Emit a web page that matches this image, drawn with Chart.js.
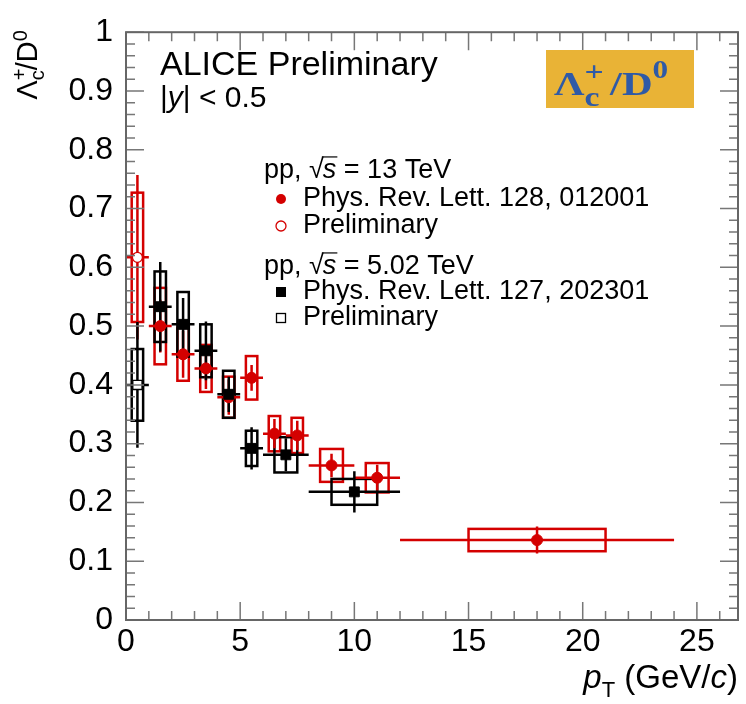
<!DOCTYPE html>
<html>
<head>
<meta charset="utf-8">
<script src="https://cdn.jsdelivr.net/npm/chart.js@4/dist/chart.umd.min.js"></script>
<style>
  html, body { margin: 0; padding: 0; background: #fff; }
  canvas { display: block; }
</style>
</head>
<body>
<canvas id="ratioChart" width="746" height="704"></canvas>
<script>
// pp, sqrt(s) = 13 TeV -- Phys. Rev. Lett. 128, 012001
const ptRed = [1.5, 2.5, 3.5, 4.5, 5.5, 6.5, 7.5, 9, 11, 18];
const ptRedLo = [1, 2, 3, 4, 5, 6, 7, 8, 10, 12];
const ptRedHi = [2, 3, 4, 5, 6, 7, 8, 10, 12, 24];
const ratioRed = [0.500, 0.452, 0.428, 0.379, 0.412, 0.317, 0.314, 0.263, 0.242, 0.136];
const statRed = [0.045, 0.040, 0.035, 0.030, 0.022, 0.025, 0.025, 0.020, 0.022, 0.023];
const systRed = [0.065, 0.045, 0.040, 0.035, 0.037, 0.030, 0.030, 0.028, 0.025, 0.019];

// pp, sqrt(s) = 13 TeV -- Preliminary
const ptRedPrel = [0.5];
const ptRedPrelLo = [0];
const ptRedPrelHi = [1];
const ratioRedPrel = [0.617];
const statRedPrel = [0.140];
const systRedPrel = [0.110];

// pp, sqrt(s) = 5.02 TeV -- Phys. Rev. Lett. 127, 202301
const ptBlack = [1.5, 2.5, 3.5, 4.5, 5.5, 7, 10];
const ptBlackLo = [1, 2, 3, 4, 5, 6, 8];
const ptBlackHi = [2, 3, 4, 5, 6, 8, 12];
const ratioBlack = [0.533, 0.503, 0.458, 0.384, 0.292, 0.281, 0.218];
const statBlack = [0.076, 0.045, 0.050, 0.030, 0.036, 0.028, 0.035];
const systBlack = [0.060, 0.055, 0.045, 0.040, 0.030, 0.030, 0.022];

// pp, sqrt(s) = 5.02 TeV -- Preliminary
const ptBlackPrel = [0.5];
const ptBlackPrelLo = [0];
const ptBlackPrelHi = [1];
const ratioBlackPrel = [0.400];
const statBlackPrel = [0.107];
const systBlackPrel = [0.061];

const FONT = "'Liberation Sans', Arial, sans-serif";
const RED = '#d40000';
const BLACK = '#000000';

const ratioCanvas = document.getElementById('ratioChart');

function toPoints(xs, ys) {
  return xs.map(function(x, i) { return { x: x, y: ys[i] }; });
}

// syst boxes: half of the bin width, centred on the point
function drawBoxes(chart, xs, lo, hi, ys, syst, color) {
  const ctx = chart.ctx;
  const sx = chart.scales.x, sy = chart.scales.y;
  ctx.strokeStyle = color;
  ctx.lineWidth = 2.5;
  xs.forEach(function(x, i) {
    const w = (hi[i] - lo[i]) / 4;
    const x0 = sx.getPixelForValue(x - w), x1 = sx.getPixelForValue(x + w);
    const y0 = sy.getPixelForValue(ys[i] + syst[i]), y1 = sy.getPixelForValue(ys[i] - syst[i]);
    ctx.strokeRect(x0, y0, x1 - x0, y1 - y0);
  });
}

function drawBars(chart, xs, lo, hi, ys, stat, color) {
  const ctx = chart.ctx;
  const sx = chart.scales.x, sy = chart.scales.y;
  ctx.strokeStyle = color;
  ctx.lineWidth = 2.5;
  ctx.beginPath();
  xs.forEach(function(x, i) {
    const py = sy.getPixelForValue(ys[i]);
    const px = sx.getPixelForValue(x);
    ctx.moveTo(sx.getPixelForValue(lo[i]), py);
    ctx.lineTo(sx.getPixelForValue(hi[i]), py);
    ctx.moveTo(px, sy.getPixelForValue(ys[i] - stat[i]));
    ctx.lineTo(px, sy.getPixelForValue(ys[i] + stat[i]));
  });
  ctx.stroke();
}

// draw a run of text pieces: [text, font, dy, noAdvance]
function drawRun(ctx, pieces, x, y) {
  let cx = x;
  pieces.forEach(function(p) {
    ctx.font = p[1];
    ctx.fillText(p[0], cx, y + (p[2] || 0));
    if (!p[3]) cx += ctx.measureText(p[0]).width;
  });
  return cx;
}

function runWidth(ctx, pieces) {
  let w = 0;
  pieces.forEach(function(p) {
    ctx.font = p[1];
    if (!p[3]) w += ctx.measureText(p[0]).width;
  });
  return w;
}

function sqrtS(ctx, x, y, size, rest) {
  ctx.font = size + 'px ' + FONT;
  ctx.fillText('pp, ', x, y);
  let cx = x + ctx.measureText('pp, ').width;
  ctx.fillText('\u221A', cx, y);
  const rw = ctx.measureText('\u221A').width;
  const top = y - size * 0.78;
  cx += rw - 1;
  ctx.font = 'italic ' + size + 'px ' + FONT;
  ctx.fillText('s', cx, y);
  const sw = ctx.measureText('s').width;
  ctx.lineWidth = 1.2;
  ctx.beginPath();
  ctx.moveTo(cx - 1, top);
  ctx.lineTo(cx + sw + 1, top);
  ctx.stroke();
  ctx.font = size + 'px ' + FONT;
  ctx.fillText(rest, cx + sw, y);
}

const rootStyle = {
  id: 'rootStyle',
  beforeDatasetsDraw(chart) {
    const ctx = chart.ctx;
    ctx.save();
    drawBoxes(chart, ptRed, ptRedLo, ptRedHi, ratioRed, systRed, RED);
    drawBoxes(chart, ptRedPrel, ptRedPrelLo, ptRedPrelHi, ratioRedPrel, systRedPrel, RED);
    drawBoxes(chart, ptBlack, ptBlackLo, ptBlackHi, ratioBlack, systBlack, BLACK);
    drawBoxes(chart, ptBlackPrel, ptBlackPrelLo, ptBlackPrelHi, ratioBlackPrel, systBlackPrel, BLACK);
    drawBars(chart, ptRed, ptRedLo, ptRedHi, ratioRed, statRed, RED);
    drawBars(chart, ptRedPrel, ptRedPrelLo, ptRedPrelHi, ratioRedPrel, statRedPrel, RED);
    drawBars(chart, ptBlack, ptBlackLo, ptBlackHi, ratioBlack, statBlack, BLACK);
    drawBars(chart, ptBlackPrel, ptBlackPrelLo, ptBlackPrelHi, ratioBlackPrel, statBlackPrel, BLACK);
    ctx.restore();
  },
  afterDraw(chart) {
    const ctx = chart.ctx;
    const a = chart.chartArea;
    const sx = chart.scales.x, sy = chart.scales.y;
    ctx.save();

    // inward ticks, ROOT style
    ctx.strokeStyle = '#777';
    ctx.lineWidth = 1.5;
    ctx.beginPath();
    for (let i = 0; i <= 26; i++) {
      const px = sx.getPixelForValue(i);
      const len = i % 5 === 0 ? 18 : 9;
      ctx.moveTo(px, a.bottom); ctx.lineTo(px, a.bottom - len);
      ctx.moveTo(px, a.top); ctx.lineTo(px, a.top + len);
    }
    for (let j = 0; j <= 50; j++) {
      const py = sy.getPixelForValue(j / 50);
      const len = j % 5 === 0 ? 18 : 9;
      ctx.moveTo(a.left, py); ctx.lineTo(a.left + len, py);
      ctx.moveTo(a.right, py); ctx.lineTo(a.right - len, py);
    }
    ctx.stroke();
    ctx.strokeStyle = '#666';
    ctx.lineWidth = 2;
    ctx.strokeRect(a.left, a.top, a.right - a.left, a.bottom - a.top);

    ctx.fillStyle = '#000';
    ctx.strokeStyle = '#000';
    ctx.textBaseline = 'alphabetic';
    ctx.textAlign = 'left';

    // x title: pT (GeV/c)
    const xt = [
      ['p', 'italic 33px ' + FONT, 0],
      ['T', '22px ' + FONT, 9],
      [' (GeV/', '33px ' + FONT, 0],
      ['c', 'italic 33px ' + FONT, 0],
      [')', '33px ' + FONT, 0]
    ];
    drawRun(ctx, xt, a.right - runWidth(ctx, xt), 688);

    // y title: Lambda_c^+ / D^0, rotated
    const yt = [
      ['\u039B', '29px ' + FONT, 0],
      ['+', '20px ' + FONT, -11, true],
      ['c', '20px ' + FONT, 7],
      ['/D', '29px ' + FONT, 0],
      ['0', '20px ' + FONT, -10]
    ];
    const ytw = runWidth(ctx, yt);
    ctx.save();
    ctx.translate(37, a.top - 2 + ytw);
    ctx.rotate(-Math.PI / 2);
    drawRun(ctx, yt, 0, 0);
    ctx.restore();

    // labels
    ctx.font = '34px ' + FONT;
    ctx.fillText('ALICE Preliminary', 160, 75);
    drawRun(ctx, [
      ['|', '30px ' + FONT, 0],
      ['y', 'italic 30px ' + FONT, 0],
      ['| < 0.5', '30px ' + FONT, 0]
    ], 160, 107);

    // orange tag
    ctx.fillStyle = '#e9b336';
    ctx.fillRect(546, 50, 148, 58);
    ctx.fillStyle = '#2f5aa6';
    const serif = "'Liberation Serif', 'DejaVu Serif', serif";
    ctx.save();
    ctx.translate(554, 95);
    ctx.scale(1.25, 1);
    drawRun(ctx, [
      ['\u039B', 'bold 34px ' + serif, 0],
      ['+', 'bold 27px ' + serif, -14, true],
      ['c', 'bold 27px ' + serif, 11],
      [' /D', 'bold 34px ' + serif, 0],
      ['0', 'bold 25px ' + serif, -17]
    ], 0, 0);
    ctx.restore();

    // legend
    ctx.fillStyle = '#000';
    sqrtS(ctx, 264, 178, 27, ' = 13 TeV');
    ctx.font = '27px ' + FONT;
    ctx.textBaseline = 'middle';
    ctx.fillText('Phys. Rev. Lett. 128, 012001', 303, 199);
    ctx.fillText('Preliminary', 303, 226);
    ctx.textBaseline = 'alphabetic';
    sqrtS(ctx, 264, 274, 27, ' = 5.02 TeV');
    ctx.font = '27px ' + FONT;
    ctx.textBaseline = 'middle';
    ctx.fillText('Phys. Rev. Lett. 127, 202301', 303, 292);
    ctx.fillText('Preliminary', 303, 318);

    ctx.fillStyle = RED;
    ctx.beginPath();
    ctx.arc(281, 199, 5, 0, Math.PI * 2);
    ctx.fill();
    ctx.strokeStyle = RED;
    ctx.lineWidth = 1.3;
    ctx.beginPath();
    ctx.arc(281, 226, 5, 0, Math.PI * 2);
    ctx.stroke();
    ctx.fillStyle = '#000';
    ctx.fillRect(276, 287, 10, 10);
    ctx.strokeStyle = '#000';
    ctx.strokeRect(276.5, 313.5, 9, 9);

    ctx.restore();
  }
};

new Chart(ratioCanvas, {
  type: 'scatter',
  data: {
    datasets: [
      {
        label: 'pp 5.02 TeV, PRL 127, 202301',
        data: toPoints(ptBlack, ratioBlack),
        pointStyle: 'rect',
        pointRadius: 7,
        backgroundColor: BLACK,
        borderColor: BLACK,
        borderWidth: 1
      },
      {
        label: 'pp 5.02 TeV, Preliminary',
        data: toPoints(ptBlackPrel, ratioBlackPrel),
        pointStyle: 'rect',
        pointRadius: 6.5,
        backgroundColor: '#ffffff',
        borderColor: BLACK,
        borderWidth: 1.3
      },
      {
        label: 'pp 13 TeV, PRL 128, 012001',
        data: toPoints(ptRed, ratioRed),
        pointStyle: 'circle',
        pointRadius: 5.5,
        backgroundColor: RED,
        borderColor: RED,
        borderWidth: 1
      },
      {
        label: 'pp 13 TeV, Preliminary',
        data: toPoints(ptRedPrel, ratioRedPrel),
        pointStyle: 'circle',
        pointRadius: 5,
        backgroundColor: '#ffffff',
        borderColor: RED,
        borderWidth: 1.3
      }
    ]
  },
  options: {
    responsive: false,
    animation: false,
    layout: { padding: { left: 0, right: 7, top: 20, bottom: 0 } },
    plugins: {
      legend: { display: false },
      tooltip: { enabled: false }
    },
    scales: {
      x: {
        type: 'linear',
        min: 0,
        max: 26.8,
        grid: { display: false, drawTicks: false },
        border: { display: false },
        ticks: {
          stepSize: 5,
          includeBounds: false,
          maxRotation: 0,
          padding: 3,
          color: '#000',
          font: { family: FONT, size: 32 }
        },
        afterFit: function(scale) { scale.height = 84; }
      },
      y: {
        type: 'linear',
        min: 0,
        max: 1,
        grid: { display: false, drawTicks: false },
        border: { display: false },
        ticks: {
          stepSize: 0.1,
          padding: 13,
          color: '#000',
          font: { family: FONT, size: 32 },
          callback: function(v) {
            if (Math.abs(v) < 1e-9) return '0';
            if (Math.abs(v - 1) < 1e-9) return '1';
            return v.toFixed(1);
          }
        },
        afterFit: function(scale) { scale.width = 126; }
      }
    }
  },
  plugins: [rootStyle]
});
</script>
</body>
</html>
